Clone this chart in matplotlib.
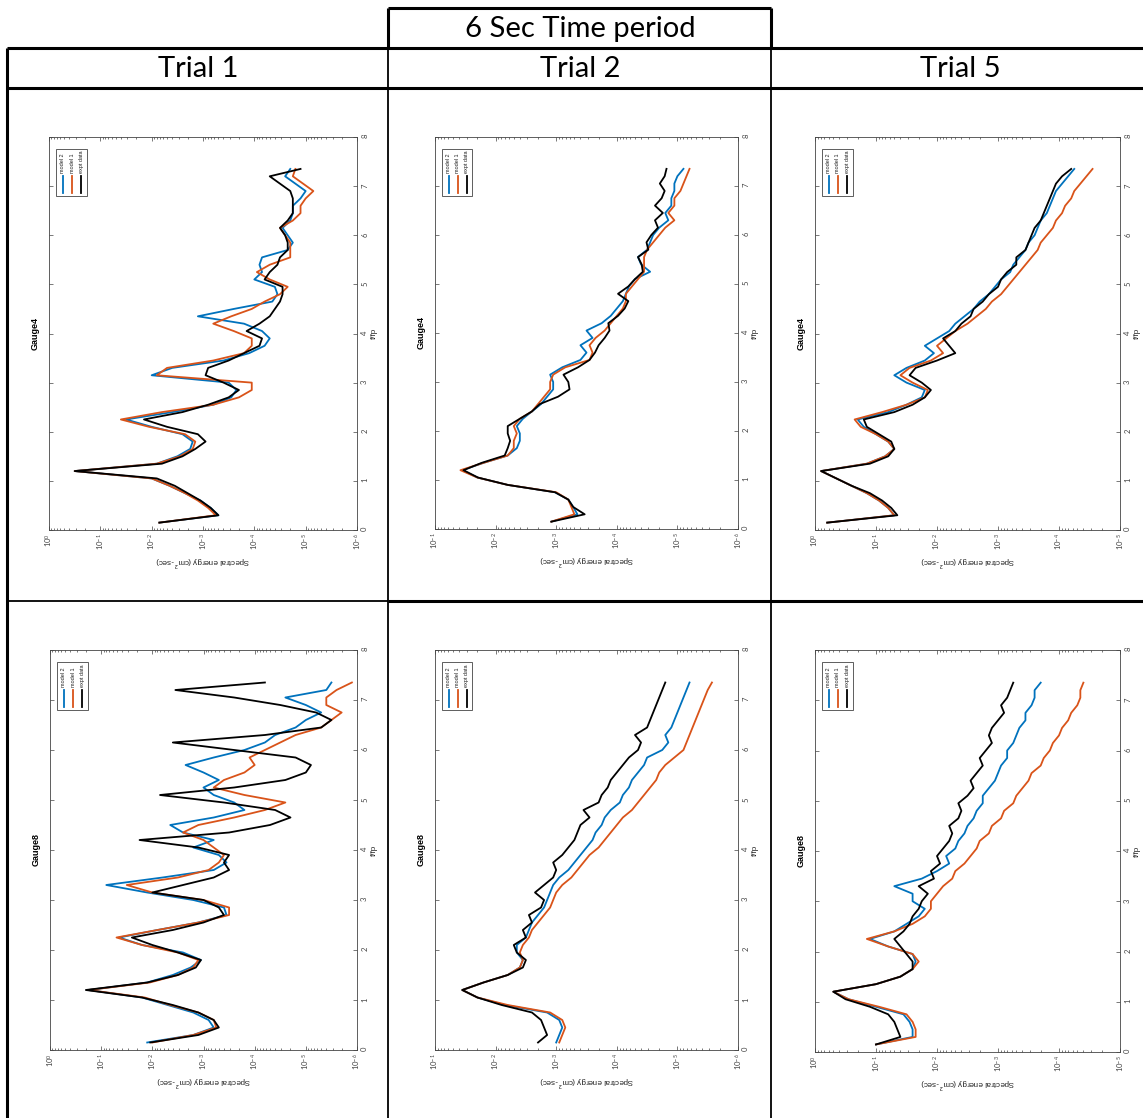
import numpy as np
import matplotlib.pyplot as plt
from matplotlib.lines import Line2D
from matplotlib.patches import Rectangle

plt.rcParams['font.family'] = ['Lato', 'DejaVu Sans']
plt.rcParams['mathtext.fontset'] = 'dejavusans'

# frequency grid (f/fp) shared by all panels
f_grid = [0.15, 0.30, 0.45, 0.60, 0.75, 0.90, 1.05, 1.20, 1.35, 1.50, 1.65, 1.80, 1.95, 2.10, 2.25,
          2.40, 2.55, 2.70, 2.85, 3.00, 3.15, 3.30, 3.45, 3.60, 3.75, 3.90, 4.05, 4.20, 4.35, 4.50,
          4.65, 4.80, 4.95, 5.10, 5.25, 5.40, 5.55, 5.70, 5.85, 6.00, 6.15, 6.30, 6.45, 6.60, 6.75,
          6.90, 7.05, 7.20, 7.35]

# log10 of spectral energy
t1g4_m2 = [-2.15,-3.3,-3.15,-2.95,-2.65,-2.35,-2.0,-0.5,-2.1,-2.5,-2.75,-2.8,-2.6,-2.0,-1.5,-2.4,-3.2,-3.55,-3.65,-3.5,
           -2.0,-2.4,-3.4,-3.9,-4.2,-4.3,-4.15,-3.8,-2.9,-3.6,-4.35,-4.45,-4.4,-4.0,-4.15,-4.1,-4.15,-4.65,-4.75,-4.65,
           -4.55,-4.7,-4.75,-4.75,-4.9,-5.0,-4.8,-4.6,-4.7]
t1g4_m1 = [-2.15,-3.25,-3.1,-2.9,-2.65,-2.35,-2.0,-0.5,-2.1,-2.55,-2.8,-2.85,-2.65,-1.95,-1.4,-2.2,-3.2,-3.7,-3.95,-3.95,
           -2.1,-2.3,-3.2,-3.8,-3.95,-3.95,-3.6,-3.2,-3.55,-3.95,-4.2,-4.5,-4.65,-4.3,-4.05,-4.3,-4.7,-4.7,-4.7,-4.6,
           -4.5,-4.75,-4.9,-4.9,-5.0,-5.15,-4.95,-4.75,-4.8]
t1g4_ex = [-2.15,-3.3,-3.15,-2.95,-2.7,-2.45,-2.1,-0.5,-2.2,-2.6,-2.85,-3.05,-2.9,-2.3,-1.85,-2.6,-3.1,-3.5,-3.7,-3.4,
           -3.05,-3.1,-3.5,-3.8,-4.1,-4.15,-3.85,-4.1,-4.3,-4.4,-4.5,-4.55,-4.55,-4.2,-4.3,-4.45,-4.5,-4.65,-4.65,-4.6,
           -4.5,-4.65,-4.75,-4.75,-4.75,-4.7,-4.5,-4.3,-4.9]

t2g4_m2 = [-2.92,-3.35,-3.28,-3.2,-2.98,-2.2,-1.7,-1.45,-1.8,-2.2,-2.35,-2.4,-2.4,-2.35,-2.45,-2.6,-2.75,-2.85,-2.95,-2.95,
           -2.9,-3.1,-3.4,-3.5,-3.4,-3.6,-3.5,-3.75,-3.9,-4.0,-4.1,-4.15,-4.2,-4.3,-4.55,-4.4,-4.35,-4.5,-4.55,-4.6,
           -4.7,-4.85,-4.8,-4.9,-4.9,-4.95,-4.95,-5.0,-5.1]
t2g4_m1 = [-2.92,-3.3,-3.25,-3.2,-3.0,-2.2,-1.7,-1.42,-1.8,-2.2,-2.3,-2.3,-2.35,-2.3,-2.4,-2.6,-2.7,-2.8,-2.9,-2.9,
           -2.95,-3.15,-3.55,-3.6,-3.55,-3.65,-3.8,-3.9,-4.0,-4.1,-4.15,-4.15,-4.25,-4.35,-4.45,-4.45,-4.45,-4.5,-4.6,-4.7,
           -4.8,-4.95,-4.85,-4.95,-4.95,-5.05,-5.1,-5.15,-5.2]
t2g4_ex = [-2.92,-3.47,-3.28,-3.2,-2.98,-2.2,-1.71,-1.47,-1.77,-2.15,-2.2,-2.24,-2.2,-2.2,-2.4,-2.6,-2.73,-3.03,-3.22,-3.2,
           -3.12,-3.36,-3.55,-3.64,-3.7,-3.8,-3.88,-3.86,-4.02,-4.13,-4.19,-4.02,-4.19,-4.3,-4.43,-4.41,-4.35,-4.52,-4.49,-4.57,
           -4.68,-4.63,-4.76,-4.63,-4.74,-4.79,-4.71,-4.79,-4.82]

t5g4_m2 = [-0.2,-1.3,-1.2,-1.05,-0.85,-0.6,-0.35,-0.1,-0.85,-1.15,-1.3,-1.2,-1.0,-0.8,-0.7,-1.2,-1.5,-1.75,-1.8,
           -1.5,-1.3,-1.5,-1.8,-1.95,-1.8,-2.0,-2.2,-2.3,-2.45,-2.6,-2.7,-2.85,-2.95,-3.05,-3.2,-3.25,-3.35,-3.45,-3.5,
           -3.6,-3.65,-3.7,-3.8,-3.85,-3.9,-3.95,-4.05,-4.15,-4.25]
t5g4_m1 = [-0.2,-1.3,-1.2,-1.05,-0.85,-0.6,-0.35,-0.1,-0.85,-1.15,-1.3,-1.2,-1.0,-0.75,-0.65,-1.1,-1.5,-1.8,-1.85,-1.6,
           -1.4,-1.55,-1.9,-2.1,-2.0,-2.15,-2.3,-2.5,-2.65,-2.8,-2.9,-3.05,-3.15,-3.25,-3.35,-3.45,-3.55,-3.65,-3.7,-3.8,
           -3.9,-3.95,-4.05,-4.1,-4.2,-4.25,-4.35,-4.45,-4.55]
t5g4_ex = [-0.2,-1.35,-1.25,-1.1,-0.9,-0.6,-0.35,-0.1,-0.9,-1.2,-1.3,-1.25,-1.05,-0.85,-0.8,-1.3,-1.6,-1.8,-1.9,
           -1.75,-1.55,-1.65,-2.0,-2.3,-2.2,-2.1,-2.3,-2.4,-2.55,-2.6,-2.75,-2.85,-3.0,-3.05,-3.15,-3.3,-3.3,-3.45,-3.5,
           -3.55,-3.6,-3.7,-3.75,-3.8,-3.85,-3.9,-3.95,-4.05,-4.2]

t1g8_m2 = [-1.9,-2.8,-3.2,-3.1,-2.8,-2.3,-1.8,-0.75,-1.9,-2.4,-2.75,-2.95,-2.6,-1.8,-1.35,-2.1,-2.9,-3.45,-3.4,-2.8,
           -1.9,-1.1,-2.2,-3.2,-3.45,-3.3,-2.8,-3.2,-2.6,-2.35,-3.2,-3.8,-3.6,-3.2,-3.0,-3.3,-3.0,-2.65,-3.2,-3.8,
           -4.2,-4.4,-4.8,-5.0,-5.3,-5.0,-4.6,-5.4,-5.5]
t1g8_m1 = [-2.0,-2.8,-3.25,-3.2,-2.9,-2.35,-1.85,-0.75,-1.95,-2.5,-2.8,-2.9,-2.5,-1.8,-1.3,-2.1,-2.9,-3.5,-3.5,-3.0,
           -2.0,-1.5,-2.5,-3.1,-3.3,-3.4,-3.2,-3.0,-2.6,-2.9,-3.6,-4.2,-4.6,-3.8,-3.2,-3.4,-3.8,-4.0,-3.9,-4.2,
           -4.5,-4.8,-5.3,-5.5,-5.7,-5.4,-5.4,-5.6,-5.9]
t1g8_ex = [-1.96,-2.9,-3.3,-3.2,-2.9,-2.4,-1.8,-0.7,-1.9,-2.5,-2.85,-2.95,-2.5,-2.0,-1.6,-2.4,-3.0,-3.4,-3.3,-3.0,
           -2.0,-2.6,-3.2,-3.5,-3.4,-3.5,-2.9,-1.75,-3.5,-4.3,-4.7,-4.4,-3.4,-2.15,-3.6,-4.6,-5.0,-5.1,-4.8,-3.6,
           -2.4,-4.2,-5.3,-5.5,-5.2,-4.5,-3.6,-2.45,-4.2]

t2g8_m2 = [-3.0,-3.05,-3.1,-3.05,-2.85,-2.15,-1.7,-1.45,-1.8,-2.2,-2.4,-2.45,-2.35,-2.35,-2.5,-2.55,-2.6,-2.7,-2.8,-2.85,
           -2.9,-2.95,-3.05,-3.2,-3.3,-3.4,-3.5,-3.6,-3.65,-3.75,-3.8,-3.9,-4.05,-4.1,-4.2,-4.25,-4.35,-4.45,-4.5,-4.75,
           -4.85,-4.8,-4.9,-4.95,-5.0,-5.05,-5.1,-5.15,-5.2]
t2g8_m1 = [-3.05,-3.1,-3.15,-3.1,-2.9,-2.2,-1.7,-1.45,-1.8,-2.2,-2.4,-2.45,-2.4,-2.45,-2.55,-2.6,-2.7,-2.8,-2.9,-2.95,
           -3.0,-3.1,-3.25,-3.35,-3.45,-3.55,-3.7,-3.8,-3.9,-4.0,-4.1,-4.25,-4.35,-4.45,-4.55,-4.65,-4.7,-4.8,-4.95,-5.1,
           -5.15,-5.2,-5.25,-5.3,-5.35,-5.4,-5.45,-5.5,-5.57]
t2g8_ex = [-2.7,-2.85,-2.8,-2.75,-2.6,-2.1,-1.7,-1.45,-1.8,-2.2,-2.45,-2.5,-2.35,-2.3,-2.5,-2.45,-2.6,-2.55,-2.75,-2.8,
           -2.65,-2.8,-2.95,-3.0,-2.95,-3.1,-3.2,-3.3,-3.35,-3.4,-3.55,-3.45,-3.7,-3.75,-3.85,-3.9,-4.0,-4.1,-4.2,-4.35,
           -4.4,-4.3,-4.5,-4.55,-4.6,-4.65,-4.7,-4.75,-4.8]

t5g8_m2 = [-1.0,-1.6,-1.6,-1.55,-1.45,-1.0,-0.55,-0.3,-1.0,-1.4,-1.6,-1.65,-1.6,-1.2,-0.9,-1.3,-1.5,-1.7,-1.8,
           -1.6,-1.6,-1.3,-1.75,-2.0,-2.2,-2.15,-2.3,-2.35,-2.45,-2.5,-2.6,-2.65,-2.75,-2.75,-2.85,-2.95,-3.0,-3.05,-3.15,
           -3.15,-3.25,-3.3,-3.35,-3.45,-3.45,-3.55,-3.6,-3.6,-3.7]
t5g8_m1 = [-1.0,-1.65,-1.65,-1.6,-1.5,-1.05,-0.55,-0.3,-1.0,-1.4,-1.6,-1.7,-1.6,-1.2,-0.85,-1.3,-1.6,-1.8,-1.9,-1.9,
           -2.0,-2.1,-2.25,-2.3,-2.45,-2.55,-2.65,-2.7,-2.85,-2.9,-3.05,-3.1,-3.25,-3.3,-3.4,-3.5,-3.55,-3.7,-3.75,-3.85,
           -3.9,-4.0,-4.05,-4.15,-4.2,-4.3,-4.35,-4.35,-4.4]
t5g8_ex = [-1.0,-1.4,-1.35,-1.3,-1.2,-0.9,-0.5,-0.3,-1.0,-1.4,-1.6,-1.6,-1.5,-1.4,-1.3,-1.45,-1.55,-1.6,-1.7,
           -1.75,-1.85,-1.7,-1.95,-1.9,-2.05,-2.0,-2.1,-2.2,-2.25,-2.2,-2.35,-2.4,-2.35,-2.5,-2.6,-2.55,-2.65,-2.75,-2.7,
           -2.8,-2.9,-2.85,-2.9,-3.0,-3.1,-3.05,-3.15,-3.2,-3.25]

trials = ["Trial 1", "Trial 2", "Trial 5"]
legend_names = ["model 2", "model 1", "expt data"]
BLUE, ORANGE, BLACK = '#0072BD', '#D95319', '#000000'
GRAY = '#444444'
SANS = ['Liberation Sans', 'DejaVu Sans']

W, H = 1143, 1118
fig = plt.figure(figsize=(W / 100, H / 100), dpi=100)


def fx(x):
    return x / W


def fy(y):
    return 1 - y / H


def line(x0, y0, x1, y1, lw=2.2):
    fig.add_artist(Line2D([fx(x0), fx(x1)], [fy(y0), fy(y1)], color='black', lw=lw,
                          transform=fig.transFigure, solid_capstyle='butt'))


# table grid
line(388, 8, 771, 8)
line(388, 8, 388, 48)
line(771, 8, 771, 48)
line(7, 48, 1143, 48)
line(7, 88, 1143, 88)
line(7, 48, 7, 1118)
line(388, 48, 388, 1118, lw=1.3)
line(771, 48, 771, 1118, lw=1.3)
line(7, 601, 388, 601, lw=1.3)
line(388, 601, 1143, 601, lw=2.2)

fig.text(fx(580), fy(29), "6 Sec Time period", ha='center', va='center', fontsize=21)
for name, xc in zip(trials, [198, 580, 960]):
    fig.text(fx(xc), fy(69), name, ha='center', va='center', fontsize=21)


def panel(rect, decades, title, m2, m1, ex):
    l, t, r, b = rect
    ax = fig.add_axes([fx(l), fy(b), (r - l) / W, (b - t) / H])
    ax.plot(np.power(10.0, m2), f_grid, color=BLUE, lw=1.3)
    ax.plot(np.power(10.0, m1), f_grid, color=ORANGE, lw=1.3)
    ax.plot(np.power(10.0, ex), f_grid, color=BLACK, lw=1.3)
    ax.set_xscale('log')
    ax.set_xlim(10.0 ** decades[0], 10.0 ** decades[1])
    ax.set_ylim(0, 8)
    ax.set_yticks(range(9))
    ax.tick_params(which='both', direction='in', top=True, bottom=True, left=True, right=True,
                   labelleft=False, labelright=True, labelsize=5.5, colors=GRAY, width=0.5)
    ax.tick_params(which='major', length=3)
    ax.tick_params(which='minor', length=1.5)
    ax.tick_params(axis='x', labelrotation=90, pad=2)
    ax.tick_params(axis='y', labelrotation=90, pad=3)
    for s in ax.spines.values():
        s.set_color(GRAY)
        s.set_linewidth(0.6)
    ax.yaxis.set_label_position('right')
    ax.set_xlabel('Spectral energy (cm$^2$-sec)', rotation=180, fontsize=5.8, color='#222222',
                  family=SANS, labelpad=3)
    ax.set_ylabel('f/fp', rotation=90, fontsize=5.8, color='#222222', family=SANS, labelpad=2)
    ax.text(-0.03, 0.5, title, rotation=90, transform=ax.transAxes, ha='right', va='center',
            fontsize=6.5, weight='bold', family=SANS)
    # legend box in upper-left corner (rotated like the rest of the plot)
    ax.add_patch(Rectangle((0.023, 0.85), 0.1, 0.119, transform=ax.transAxes, fill=True,
                           facecolor='white', edgecolor=GRAY, lw=0.6, zorder=5))
    for k, (name, col) in enumerate(zip(legend_names, [BLUE, ORANGE, BLACK])):
        xk = 0.045 + k * 0.03
        ax.add_line(Line2D([xk, xk], [0.857, 0.90], color=col, lw=1.3, transform=ax.transAxes, zorder=6))
        ax.text(xk, 0.908, name, rotation=90, transform=ax.transAxes, ha='center', va='bottom',
                fontsize=4, color='#222222', zorder=6, family=SANS)
    return ax


panel((49, 137, 357, 530), (0, -6), 'Gauge4', t1g4_m2, t1g4_m1, t1g4_ex)
panel((435, 137, 738, 529), (-1, -6), 'Gauge4', t2g4_m2, t2g4_m1, t2g4_ex)
panel((815, 137, 1120, 530), (0, -5), 'Gauge4', t5g4_m2, t5g4_m1, t5g4_ex)
panel((50, 650, 357, 1050), (0, -6), 'Gauge8', t1g8_m2, t1g8_m1, t1g8_ex)
panel((435, 650, 738, 1050), (-1, -6), 'Gauge8', t2g8_m2, t2g8_m1, t2g8_ex)
panel((815, 650, 1120, 1052), (0, -5), 'Gauge8', t5g8_m2, t5g8_m1, t5g8_ex)

fig.savefig('out.png', dpi=100)
